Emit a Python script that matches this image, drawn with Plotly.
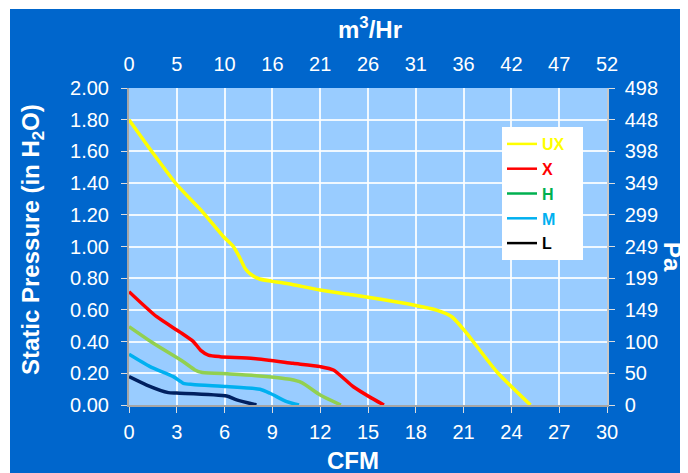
import plotly.graph_objects as go

# ---------------- data ----------------
cfm_ticks = [0, 3, 6, 9, 12, 15, 18, 21, 24, 27, 30]
m3hr_labels = ["0", "5", "10", "16", "21", "26", "31", "36", "42", "47", "52"]
inh2o_ticks = [0.0, 0.2, 0.4, 0.6, 0.8, 1.0, 1.2, 1.4, 1.6, 1.8, 2.0]
pa_labels = ["0", "50", "100", "149", "199", "249", "299", "349", "398", "448", "498"]

ux_cfm = [0, 1.5, 3.0, 4.6, 5.9, 6.55, 6.95, 7.3, 7.7, 8.2, 9.0, 10.0, 12.0, 14.0, 15.8, 17.85, 19.3, 20.26, 21.2, 23.08, 25.2]
ux_p = [1.80, 1.59, 1.39, 1.22, 1.065, 1.00, 0.93, 0.86, 0.82, 0.795, 0.78, 0.765, 0.725, 0.695, 0.667, 0.631, 0.599, 0.557, 0.452, 0.21, 0.0]

x_cfm = [0, 1.74, 3.2, 4.04, 4.5, 4.98, 5.71, 7.8, 10.3, 12.0, 12.83, 14.08, 15.2, 16.0]
x_p = [0.715, 0.557, 0.46, 0.40, 0.345, 0.315, 0.305, 0.294, 0.263, 0.242, 0.221, 0.115, 0.045, 0.0]

h_cfm = [0, 1.53, 3.41, 4.14, 4.6, 6.34, 8.0, 10.1, 10.84, 12.0, 13.3]
h_p = [0.494, 0.389, 0.273, 0.221, 0.205, 0.196, 0.185, 0.162, 0.141, 0.063, 0.0]

m_cfm = [0, 1.32, 2.78, 3.41, 4.0, 6.13, 8.22, 8.85, 9.9, 10.67]
m_p = [0.32, 0.242, 0.179, 0.137, 0.13, 0.116, 0.099, 0.074, 0.021, 0.0]

l_cfm = [0, 1.11, 2.47, 3.0, 6.13, 6.76, 8.0]
l_p = [0.179, 0.126, 0.078, 0.075, 0.057, 0.032, 0.0]

series = [
    ("UX", ux_cfm, ux_p, "#FFFF00", "#FFFF00"),
    ("X", x_cfm, x_p, "#FF0000", "#FF0000"),
    ("H", h_cfm, h_p, "#92D050", "#00B050"),
    ("M", m_cfm, m_p, "#00B0F0", "#00B0F0"),
    ("L", l_cfm, l_p, "#002060", "#000000"),
]

BLUE = "#0066CC"
PLOT_BG = "#99CCFF"
GRID = "rgba(255,255,255,0.85)"
FONT = "Liberation Sans, Arial, sans-serif"

fig = go.Figure()

for name, xs, ys, col, _ in series:
    fig.add_trace(go.Scatter(x=xs, y=ys, mode="lines", showlegend=False,
                             line=dict(color=col, width=3.5, shape="spline", smoothing=0.6),
                             hoverinfo="skip"))

# legend entries (drawn on the secondary axes)
for i, (name, xs, ys, col, lcol) in enumerate(series):
    fig.add_trace(go.Scatter(x=[None], y=[None], mode="lines", xaxis="x2", yaxis="y2",
                             name=f"<b><span style='color:{lcol}'>{name}</span></b>&nbsp;&nbsp;&nbsp;",
                             legendgroup=name,
                             line=dict(color=lcol, width=2.5)))

axis_common = dict(showgrid=True, gridcolor=GRID, gridwidth=1.5, zeroline=False,
                   ticks="outside", ticklen=6, tickcolor="#DDDDDD", tickwidth=1,
                   tickfont=dict(color="white", size=20, family=FONT),
                   showline=True, linecolor="#A6A6A6", linewidth=2)

fig.update_layout(
    width=688, height=473,
    margin=dict(l=121, r=89, t=80, b=76),
    paper_bgcolor=BLUE, plot_bgcolor=PLOT_BG,
    font=dict(family=FONT, color="white"),
    xaxis=dict(range=[0, 30], tickvals=cfm_ticks, ticklabelstandoff=2, **axis_common),
    yaxis=dict(range=[0, 2], tickvals=inh2o_ticks, tickformat=".2f", ticklabelstandoff=8,
               **axis_common),
    xaxis2=dict(range=[0, 30], overlaying="x", side="top", tickvals=cfm_ticks,
                ticktext=m3hr_labels, showgrid=False, zeroline=False, ticks="",
                ticklabelstandoff=12,
                tickfont=dict(color="white", size=20, family=FONT), showline=False),
    yaxis2=dict(range=[0, 2], overlaying="y", side="right", tickvals=inh2o_ticks,
                ticktext=pa_labels, showgrid=False, zeroline=False, ticks="outside",
                ticklen=6, tickcolor="#DDDDDD", ticklabelstandoff=6,
                tickfont=dict(color="white", size=20, family=FONT),
                showline=True, linecolor="#C8C8C8", linewidth=1.5),
    legend=dict(x=(502 - 129) / 478, y=(405 - 127) / 317, xanchor="left", yanchor="top",
                bgcolor="white", font=dict(size=16, family=FONT), tracegroupgap=1,
                itemwidth=30),
    showlegend=True,
)

# thin white outer edge (left and top)
fig.add_shape(type="rect", xref="paper", yref="paper", x0=-121 / 478, x1=-119 / 478,
              y0=-0.3, y1=1.3, fillcolor="white", line_width=0, layer="above")
fig.add_shape(type="rect", xref="paper", yref="paper", x0=-0.3, x1=1.3,
              y0=396 / 317, y1=1.3, fillcolor="white", line_width=0, layer="above")

title_font = dict(family=FONT, size=24, color="white")
fig.add_annotation(text="<b>Static Pressure (in H<sub>2</sub>O)</b>", xref="paper", yref="paper",
                   x=(32 - 129) / 478, y=(405 - 240) / 317, textangle=-90, showarrow=False,
                   font=title_font, xanchor="center", yanchor="middle")
fig.add_annotation(text="<b>CFM</b>", xref="paper", yref="paper",
                   x=(353 - 129) / 478, y=(405 - 460) / 317, showarrow=False,
                   font=title_font, xanchor="center", yanchor="middle")
fig.add_annotation(text="<b>m<sup>3</sup>/Hr</b>", xref="paper", yref="paper",
                   x=(370 - 129) / 478, y=(405 - 28) / 317, showarrow=False,
                   font=title_font, xanchor="center", yanchor="middle")
fig.add_annotation(text="<b>Pa</b>", xref="paper", yref="paper",
                   x=(673 - 129) / 478, y=(405 - 257) / 317, textangle=90, showarrow=False,
                   font=title_font, xanchor="center", yanchor="middle")

fig.write_html("out.html")
